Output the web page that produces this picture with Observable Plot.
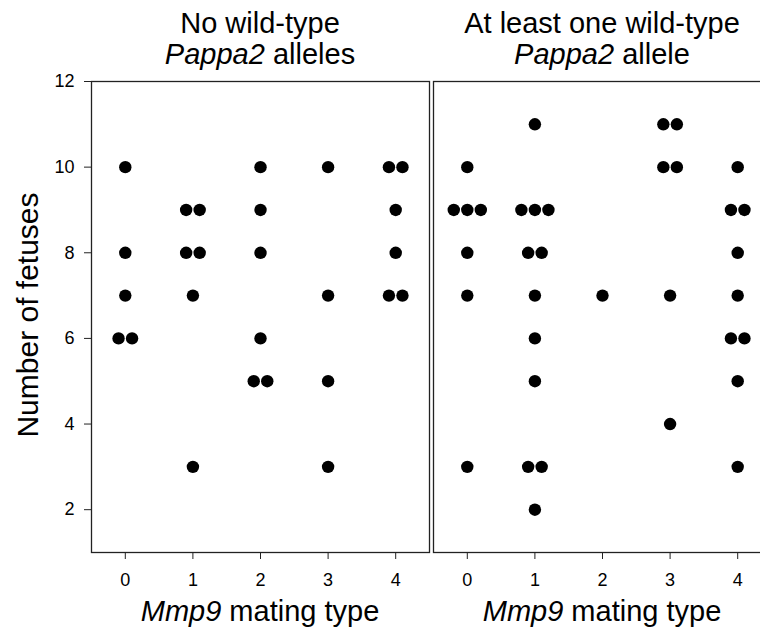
<!DOCTYPE html>
<html><head><meta charset="utf-8">
<script src="https://cdn.jsdelivr.net/npm/d3@7"></script>
<script src="https://cdn.jsdelivr.net/npm/@observablehq/plot@0.6"></script>
<style>
html,body{margin:0;padding:0;overflow:hidden;background:#fff;}
#chart{width:760px;height:633px;overflow:hidden;}
#chart svg{max-width:none !important;display:block;}
</style></head><body><div id="chart"></div>
<script>
// Panels (facets)
const panels = ["none", "atLeastOne"];
const panelTitleLine1 = ["No wild-type", "At least one wild-type"];
const panelTitleGene = ["Pappa2", "Pappa2"];
const panelTitleRest = [" alleles", " allele"];
const xLabelGene = "Mmp9";
const xLabelRest = " mating type";
const yLabel = "Number of fetuses";

// Tick values
const matingTicks = [0, 1, 2, 3, 4];
const fetusTicks = [2, 4, 6, 8, 10, 12];

// Panel 1: no wild-type Pappa2 alleles
const noneType    = [0, 0, 0, 0, 0,   1, 1, 1, 1, 1, 1,   2, 2, 2, 2, 2, 2,   3, 3, 3, 3,   4, 4, 4, 4, 4, 4];
const noneFetuses = [10, 8, 7, 6, 6,  9, 9, 8, 8, 7, 3,   10, 9, 8, 6, 5, 5,  10, 7, 5, 3,   10, 10, 9, 8, 7, 7];
const noneJitter  = [0, 0, 0, -0.1, 0.1,  -0.1, 0.1, -0.1, 0.1, 0, 0,  0, 0, 0, 0, -0.1, 0.1,  0, 0, 0, 0,  -0.1, 0.1, 0, 0, -0.1, 0.1];

// Panel 2: at least one wild-type Pappa2 allele
const wtType    = [0, 0, 0, 0, 0, 0, 0,   1, 1, 1, 1, 1, 1, 1, 1, 1, 1, 1, 1,   2,   3, 3, 3, 3, 3, 3,   4, 4, 4, 4, 4, 4, 4, 4, 4];
const wtFetuses = [10, 9, 9, 9, 8, 7, 3,  11, 9, 9, 9, 8, 8, 7, 6, 5, 3, 3, 2,  7,   11, 11, 10, 10, 7, 4,   10, 9, 9, 8, 7, 6, 6, 5, 3];
const wtJitter  = [0, -0.2, 0, 0.2, 0, 0, 0,  0, -0.2, 0, 0.2, -0.1, 0.1, 0, 0, 0, -0.1, 0.1, 0,  0,  -0.1, 0.1, -0.1, 0.1, 0, 0,  0, -0.1, 0.1, 0, 0, -0.1, 0.1, 0, 0];

const rows = [];
noneType.forEach((t, i) => rows.push({panel: panels[0], type: t, jitter: noneJitter[i], fetuses: noneFetuses[i]}));
wtType.forEach((t, i) => rows.push({panel: panels[1], type: t, jitter: wtJitter[i], fetuses: wtFetuses[i]}));

const font = "'Liberation Sans', Arial, Helvetica, sans-serif";

const chart = Plot.plot({
  width: 771,
  height: 633,
  marginLeft: 90,
  marginRight: 0,
  marginTop: 81,
  marginBottom: 81,
  style: {fontFamily: font, fontSize: "18px", background: "white", color: "black", maxWidth: "none"},
  fx: {domain: panels, paddingInner: 0.0117, paddingOuter: 0, axis: null, label: null},
  x: {domain: [-0.5, 4.5]},
  y: {domain: [1, 12]},
  marks: [
    Plot.frame({stroke: "#222", strokeWidth: 1.3}),
    Plot.axisX(matingTicks, {tickSize: 7, tickPadding: 14, fontSize: 18, label: null, stroke: "#222"}),
    Plot.axisY(fetusTicks, {tickSize: 7, tickPadding: 10, fontSize: 18, label: null, stroke: "#222"}),
    Plot.dot(rows, {fx: "panel", x: d => d.type + d.jitter, y: "fetuses", r: 6.2, fill: "black", stroke: "none"})
  ]
});

document.getElementById("chart").appendChild(chart);

const svg = d3.select(chart);
const fx = chart.scale("fx");
panels.forEach((p, i) => {
  const cx = fx.apply(p) + fx.bandwidth / 2;
  svg.append("text")
    .attr("x", cx).attr("y", 33)
    .attr("text-anchor", "middle")
    .attr("font-family", font).attr("font-size", 29).attr("fill", "black")
    .text(panelTitleLine1[i]);
  const t2 = svg.append("text")
    .attr("x", cx).attr("y", 64)
    .attr("text-anchor", "middle")
    .attr("font-family", font).attr("font-size", 29).attr("fill", "black");
  t2.append("tspan").attr("font-style", "italic").text(panelTitleGene[i]);
  t2.append("tspan").text(panelTitleRest[i]);

  const t3 = svg.append("text")
    .attr("x", cx).attr("y", 621)
    .attr("text-anchor", "middle")
    .attr("font-family", font).attr("font-size", 29).attr("fill", "black");
  t3.append("tspan").attr("font-style", "italic").text(xLabelGene);
  t3.append("tspan").text(xLabelRest);
});

svg.append("text")
  .attr("transform", "translate(38,315) rotate(-90)")
  .attr("text-anchor", "middle")
  .attr("font-family", font).attr("font-size", 30).attr("fill", "black")
  .text(yLabel);
</script>
</body></html>
